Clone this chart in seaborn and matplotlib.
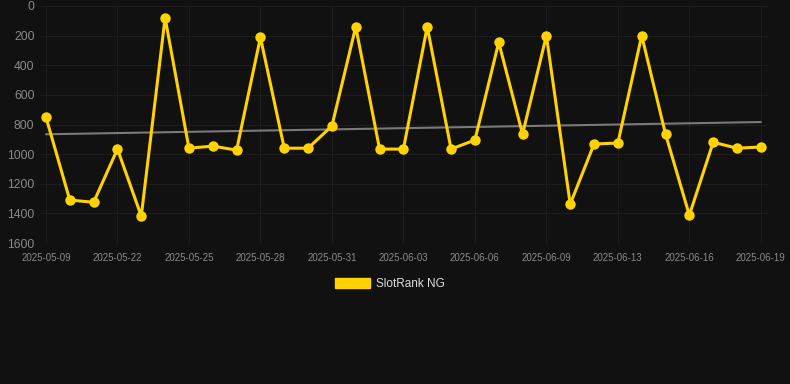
import numpy as np
import pandas as pd
import seaborn as sns
import matplotlib.pyplot as plt
from matplotlib.patches import Patch

# SlotRank NG values (lower is better, axis inverted)
rank = [750, 1310, 1325, 966, 1418, 80, 960, 946, 973, 212,
        960, 960, 810, 140, 966, 966, 140, 966, 905, 245,
        865, 200, 1338, 932, 925, 200, 865, 1412, 920, 960, 952]
tick_labels = ['2025-05-09', '2025-05-22', '2025-05-25', '2025-05-28',
               '2025-05-31', '2025-06-03', '2025-06-06', '2025-06-09',
               '2025-06-13', '2025-06-16', '2025-06-19']
series_name = 'SlotRank NG'

df = pd.DataFrame({'idx': np.arange(len(rank)), 'rank': rank})

# linear trend through the data
slope, icpt = np.polyfit(df['idx'], df['rank'], 1)
df['trend'] = icpt + slope * df['idx']

bg = '#111111'
gold = '#FFD200'
sns.set_theme(style='dark')
plt.rcParams['font.family'] = ['Liberation Sans', 'DejaVu Sans']

fig = plt.figure(figsize=(7.9, 3.84), dpi=100, facecolor=bg)
ax = fig.add_axes([40 / 790, 1 - 243 / 384, 728 / 790, 237 / 384])
ax.set_facecolor(bg)

sns.lineplot(data=df, x='idx', y='trend', ax=ax, color='#7a7a7a', linewidth=1.5)
sns.lineplot(data=df, x='idx', y='rank', ax=ax, color=gold, linewidth=2.2,
             marker='o', markersize=7.5, markeredgewidth=0)

ax.set_ylim(1600, 0)
ax.set_xlim(-0.25, 30.3)
ax.set_yticks(range(0, 1601, 200))
ax.set_xticks(df['idx'][::3])
ax.set_xticklabels(tick_labels)
ax.set_xlabel('')
ax.set_ylabel('')

ax.grid(True, color='#1d1d1d', linewidth=0.8)
for s in ax.spines.values():
    s.set_visible(False)
ax.tick_params(axis='y', colors='#8a8a8a', labelsize=8.7, length=0, pad=4)
ax.tick_params(axis='x', colors='#1d1d1d', labelcolor='#8a8a8a', labelsize=7,
               length=5, width=0.8, pad=2)

ax.legend(handles=[Patch(facecolor=gold, edgecolor=gold, label=series_name)],
          loc='center', bbox_to_anchor=(390 / 790, 1 - 284 / 384),
          bbox_transform=fig.transFigure, frameon=False, fontsize=8.5,
          labelcolor='#dddddd', handlelength=2.9, handleheight=0.9,
          handletextpad=0.5)

fig.savefig('out.png', dpi=100, facecolor=bg)
